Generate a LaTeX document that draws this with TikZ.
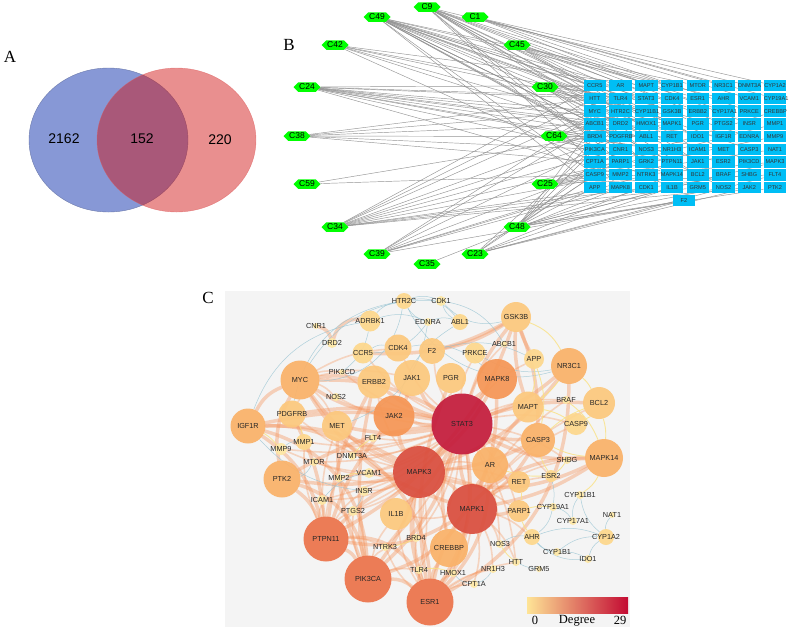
\documentclass[tikz,border=0pt]{standalone}
\usepackage{fontspec}
\setmainfont{Liberation Serif}
\newfontfamily\arialf{Liberation Sans}
\usetikzlibrary{matrix,shapes.symbols}

\pgfdeclarelayer{bg}
\pgfdeclarelayer{edges}
\pgfsetlayers{bg,edges,main}

\definecolor{vennblue}{RGB}{135,152,214}
\definecolor{vennred}{RGB}{208,20,20}
\definecolor{tgtblue}{RGB}{0,190,245}
\definecolor{panelgray}{RGB}{244,244,244}
\definecolor{gA}{RGB}{254,232,165}
\definecolor{gB}{RGB}{253,215,140}
\definecolor{gC}{RGB}{252,200,125}
\definecolor{gD}{RGB}{250,178,105}
\definecolor{gE}{RGB}{246,150,85}
\definecolor{gF}{RGB}{236,115,75}
\definecolor{gG}{RGB}{218,78,62}
\definecolor{gH}{RGB}{196,28,60}
\definecolor{ebig}{RGB}{245,150,95}
\definecolor{eblue}{RGB}{150,195,210}
\definecolor{eyel}{RGB}{250,225,130}
\definecolor{cb0}{RGB}{254,228,150}
\definecolor{cb1}{RGB}{247,140,60}
\definecolor{cb2}{RGB}{195,10,50}

\begin{document}
\begin{tikzpicture}[x=1pt,y=-1pt,
    panel/.style={font=\fontsize{17}{17}\selectfont},
    cpd/.style={signal, signal to=west and east, fill=green, minimum width=27pt, minimum height=9.5pt, inner sep=0.3pt, font=\arialf\fontsize{8.5}{9}\selectfont},
    tgt/.style={fill=tgtblue, minimum height=11.5pt, text width=22.5pt, inner xsep=0pt, inner ysep=0pt, align=center, text=black!80, font=\arialf\fontsize{5.6}{6}\selectfont},
    link/.style={draw=gray!85, line width=0.45pt},
    gene/.style={circle, inner sep=0pt, fill opacity=0.93, minimum size=#1},
    glabel/.style={font=\arialf\fontsize{7.3}{8}\selectfont, text=black!85},
    cbig/.style={draw=ebig, line width=3.5pt, draw opacity=0.4, line cap=round},
    cmed/.style={draw=ebig, line width=1.6pt, draw opacity=0.35, line cap=round},
    cblue/.style={draw=eblue, line width=0.5pt, draw opacity=0.75},
    cyel/.style={draw=eyel, line width=0.9pt, draw opacity=0.8}]
\useasboundingbox (0,0) rectangle (789,630);

% A: venn
\node[panel] (labA) at (10,57) {A};
\draw[fill=vennblue, draw=vennblue!80!black] (108.5,140) ellipse [x radius=79.5, y radius=72];
\draw[fill=vennred, fill opacity=0.48, draw=vennred!70, draw opacity=0.6] (176.5,140) ellipse [x radius=79.5, y radius=72];
\node[font=\arialf\fontsize{14}{14}\selectfont] (n2162) at (64,139) {2162};
\node[font=\arialf\fontsize{14}{14}\selectfont] (n152) at (142,139) {152};
\node[font=\arialf\fontsize{14}{14}\selectfont] (n220) at (220,140) {220};

% B: compound-target network
\node[panel] (labB) at (289,45) {B};
\foreach \c/\x/\y in {C9/427/7, C1/475/17, C49/377/17, C42/335/45, C45/517/45, C24/307/87, C30/545/87, C38/297/136,
    C64/554/136, C59/307/184, C25/545/184, C34/335/227, C48/517/227, C39/377/254, C23/475/254, C35/427/264}
  \node[cpd] (\c) at (\x,\y) {\c};

\matrix (G) [matrix of nodes, nodes={tgt}, column sep=3.25pt, row sep=1.2pt] at (684.9,136.6) {
  CCR5 & AR & MAPT & CYP1B1 & MTOR & NR3C1 & DNMT3A & CYP1A2 \\
  HTT & TLR4 & STAT3 & CDK4 & ESR1 & AHR & VCAM1 & CYP19A1 \\
  MYC & HTR2C & CYP11B1 & GSK3B & ERBB2 & CYP17A1 & PRKCE & CREBBP \\
  ABCB1 & DRD2 & HMOX1 & MAPK1 & PGR & PTGS2 & INSR & MMP1 \\
  BRD4 & PDGFRB & ABL1 & RET & IDO1 & IGF1R & EDNRA & MMP9 \\
  PIK3CA & CNR1 & NOS3 & NR1H3 & ICAM1 & MET & CASP3 & NAT1 \\
  CPT1A & PARP1 & GRK2 & PTPN11 & JAK1 & ESR2 & PIK3CD & MAPK3 \\
  CASP9 & MMP2 & NTRK3 & MAPK14 & BCL2 & BRAF & SHBG & FLT4 \\
  APP & MAPK8 & CDK1 & IL1B & GRM5 & NOS2 & JAK2 & PTK2 \\
};
\node[tgt] (G-10-1) at (684,200.5) {F2};

\begin{pgfonlayer}{edges}
\foreach \c/\ts in {C9/{1,4,7,12,18,22,27,30,35,41,44,50,55,61,66}, C49/{2,5,9,11,14,17,20,25,28,33,36,39,42,47,52,57,60,65,70},
    C1/{6,8,15,16,23,31}, C42/{3,10,19,26,34,49}, C45/{4,13,21,29,37,45,53}, C24/{1,9,12,17,25,28,33,38,41,46,54,58},
    C30/{2,11,19,27,35,43,51}, C38/{9,17,25,33,41,49}, C64/{3,12,20,28,36,44,52,60,68}, C59/{33,57},
    C25/{24,32,40,48,56,64}, C34/{1,9,17,26,34,42,50,58,63,66,69,71}, C48/{25,33,41,49,56,57,62,65,67,70,72,73},
    C39/{10,18,34,50,59,65,66,73}, C23/{26,42,57,60,64,68,71,73}, C35/{66}}
  \foreach \t in \ts {
    \pgfmathtruncatemacro\rr{div(\t-1,8)+1}
    \pgfmathtruncatemacro\cc{mod(\t-1,8)+1}
    \draw[link] (\c) -- (G-\rr-\cc);
  };
\end{pgfonlayer}

% C: PPI network
\node[panel] (labC) at (208,298) {C};
\begin{pgfonlayer}{bg}
\fill[panelgray] (225,291) rectangle (630,627);
\end{pgfonlayer}

\foreach \n/\x/\y/\d/\col in {HTR2C/404/301/16/gB, CDK1/441/301/10/gA, ADRBK1/370/321/21/gB, CNR1/316/326/6/gA,
    EDNRA/428/322/8/gA, ABL1/460/322/16/gB, DRD2/332/343/10/gA, CDK4/398/348/27/gC, CCR5/363/353/21/gB,
    F2/432/351/26/gC, PRKCE/475/353/21/gB, ABCB1/504/344/6/gA, GSK3B/516/317/30/gC, MYC/300/380/39/gD,
    PIK3CD/342/372/6/gA, ERBB2/374/382/33/gC, JAK1/412/378/36/gC, PGR/451/378/30/gC, MAPK8/497/379/40/gE,
    NOS2/336/397/8/gA, PDGFRB/292/414/27/gC, JAK2/394/416/41/gE, STAT3/462/424/61/gH, IGF1R/248/426/35/gD,
    MET/337/426/30/gC, FLT4/373/438/8/gA, MMP1/304/442/16/gB, MMP9/281/449/12/gA, APP/534/359/20/gB,
    NR3C1/569/366/36/gD, BRAF/566/400/8/gA, BCL2/599/403/32/gC, MAPT/528/407/31/gC, CASP9/576/424/22/gB,
    CASP3/538/440/34/gD, MAPK14/604/458/38/gD, MTOR/314/462/8/gA, DNMT3A/352/456/8/gA, PTK2/282/479/37/gD,
    MMP2/339/478/8/gA, VCAM1/369/473/10/gA, MAPK3/419/472/52/gG, AR/490/465/36/gD, INSR/364/491/10/gA,
    ICAM1/322/500/10/gA, PTGS2/353/511/10/gA, IL1B/396/514/32/gC, MAPK1/472/509/50/gG, PTPN11/326/539/45/gF,
    BRD4/416/538/8/gA, NTRK3/385/547/8/gA, CREBBP/449/548/38/gD, NOS3/500/544/8/gA, TLR4/419/570/8/gA,
    HMOX1/453/573/8/gA, NR1H3/493/569/8/gA, CPT1A/474/584/8/gA, PIK3CA/368/579/47/gF, ESR1/430/602/47/gF,
    HTT/516/562/8/gA, SHBG/567/460/8/gA, RET/519/482/22/gC, ESR2/551/476/12/gB, CYP11B1/580/495/8/gA,
    CYP19A1/553/507/8/gA, PARP1/519/511/22/gC, NAT1/612/515/6/gA, CYP17A1/573/521/8/gA, AHR/532/537/16/gB,
    CYP1A2/606/537/16/gB, CYP1B1/557/552/8/gA, IDO1/588/559/8/gA, GRM5/539/569/6/gA}
  \node[gene=\d pt, fill=\col, label={[glabel]center:\n}] (\n) at (\x,\y) {};

\begin{pgfonlayer}{edges}
\foreach \a/\b/\bd in {STAT3/MAPK3/10, STAT3/MAPK1/-10, STAT3/JAK2/10, STAT3/JAK1/15, STAT3/ESR1/20, STAT3/PIK3CA/15,
    STAT3/PTPN11/10, STAT3/MYC/-15, STAT3/IGF1R/-10, STAT3/MAPK8/10, STAT3/CASP3/-10, STAT3/AR/10, STAT3/CREBBP/-15,
    STAT3/IL1B/10, STAT3/MAPK14/-15, STAT3/GSK3B/10, STAT3/NR3C1/-10, STAT3/ERBB2/10, STAT3/PTK2/-12, STAT3/MET/10,
    STAT3/PDGFRB/-10, STAT3/BCL2/10, MAPK3/MAPK1/15, MAPK3/ESR1/-15, MAPK3/PIK3CA/10, MAPK3/PTPN11/-10, MAPK3/MYC/15,
    MAPK3/PTK2/10, MAPK3/IGF1R/-15, MAPK3/MAPK14/-20, MAPK3/CASP3/-10, MAPK3/NR3C1/-15, MAPK3/GSK3B/-12, MAPK3/JAK2/10,
    MAPK3/MAPK8/-10, MAPK1/ESR1/10, MAPK1/PIK3CA/15, MAPK1/PTPN11/20, MAPK1/CREBBP/10, MAPK1/MAPK8/-10, MAPK1/MAPT/10,
    MAPK1/CASP3/-10, MAPK1/AR/10, MAPK1/PARP1/-10, MAPK1/MAPK14/-10, MAPK1/MYC/20, ESR1/PIK3CA/-20, ESR1/PTPN11/-35,
    ESR1/CREBBP/15, ESR1/AR/-20, ESR1/NR3C1/-30, ESR1/PGR/15, ESR1/IGF1R/-45, ESR1/MAPK14/40, PIK3CA/PTPN11/-15,
    PIK3CA/PTK2/-30, PIK3CA/IGF1R/-35, PIK3CA/ERBB2/10, PIK3CA/MET/10, PTPN11/PTK2/-15, PTPN11/IGF1R/-20,
    PTPN11/JAK2/10, PTPN11/ERBB2/10, PTPN11/PDGFRB/-10, GSK3B/CCR5/15, GSK3B/F2/10, GSK3B/MAPT/-10, GSK3B/APP/-5,
    GSK3B/CASP3/10, CNR1/DRD2/30, DRD2/ADRBK1/40, MYC/PTK2/-20, MYC/IGF1R/-20, MYC/JAK2/-10, MYC/ERBB2/10, JAK1/JAK2/10}
  \draw[cbig] (\a) to[bend left=\bd] (\b);
\foreach \a/\bs in {STAT3/{MMP2,VCAM1,INSR,ICAM1,PTGS2,FLT4,NOS2,PIK3CD,DNMT3A,MTOR,MMP1,MMP9,BRD4,NTRK3,TLR4,HMOX1,NOS3,HTT,RET,PARP1,ESR2,SHBG,BRAF,CASP9,APP,ABCB1,PRKCE,F2,CDK4,CCR5,PGR},
    MAPK3/{MMP2,VCAM1,INSR,ICAM1,PTGS2,MTOR,MMP9,NTRK3,BRD4,TLR4,RET,PARP1,IL1B,CREBBP,AR,MET,PDGFRB,ERBB2},
    MAPK1/{NOS3,HTT,NR1H3,HMOX1,RET,ESR2,SHBG,CASP9,BRAF,IL1B,AHR,CPT1A,BCL2},
    ESR1/{TLR4,HMOX1,CPT1A,NR1H3,HTT,BRD4,NTRK3,IL1B,MAPK3},
    PTPN11/{ICAM1,PTGS2,MMP2,INSR,MMP1,NTRK3,MET},
    PIK3CA/{NTRK3,PTGS2,INSR,TLR4,IL1B},
    MYC/{NOS2,PIK3CD,MET,PDGFRB,CDK4,JAK1}}
  \foreach \b in \bs {\draw[cmed] (\a) to[bend left=12] (\b);};
\foreach \a/\b/\bd in {HTR2C/CDK1/20, HTR2C/EDNRA/-20, EDNRA/ABL1/20, ADRBK1/HTR2C/20, CDK1/ABL1/-20, HTR2C/ABL1/30,
    ADRBK1/EDNRA/20, CCR5/CDK4/20, CDK1/GSK3B/-30, HTR2C/MYC/40, EDNRA/MET/30, ABL1/JAK2/-20, CDK4/MAPK8/25,
    F2/APP/20, PRKCE/NR3C1/-20, HTR2C/NR3C1/-40, ADRBK1/PIK3CD/20, CYP11B1/CYP17A1/-20, CYP19A1/CYP17A1/20,
    CYP1A2/CYP1B1/-20, CYP1A2/NAT1/20, IDO1/CYP1A2/20, AHR/CYP1B1/-20, AHR/CYP1A2/20, AHR/IDO1/-25, CYP19A1/AHR/20,
    CYP1B1/IDO1/15, CYP11B1/CYP1A2/-20, ESR2/CYP19A1/10, GRM5/HTT/10, NR1H3/CPT1A/20, HMOX1/CPT1A/-20, NOS3/AHR/20,
    MMP9/MMP1/20, MTOR/PTK2/20, ICAM1/VCAM1/20, INSR/PTGS2/10, IGF1R/INSR/-20, EDNRA/CCR5/25, ABCB1/CDK1/-25,
    MYC/CDK1/30, PDGFRB/HTR2C/35, IGF1R/ADRBK1/30}
  \draw[cblue] (\a) to[bend left=\bd] (\b);
\foreach \a/\b/\bd in {MAPT/CASP9/10, BRAF/MAPK14/15, SHBG/ESR2/10, CASP3/MAPK14/-10, BCL2/MAPK14/10, NR3C1/BCL2/10,
    APP/MAPT/10, ESR2/AR/10, RET/PARP1/10, PARP1/CYP19A1/10, MAPK14/CYP11B1/15, NOS3/HTT/-10, TLR4/HMOX1/15,
    BRD4/NTRK3/10, MMP2/VCAM1/10, DNMT3A/FLT4/10, PDGFRB/MMP1/10, IGF1R/MMP9/10, BCL2/CASP9/15, BCL2/CASP3/-10,
    NR3C1/MAPT/10, APP/CASP3/15, GSK3B/NR3C1/20, ESR2/CASP3/10, AHR/PARP1/10}
  \draw[cyel] (\a) to[bend left=\bd] (\b);
\end{pgfonlayer}

% colour bar
\shade[left color=cb0, middle color=cb1, right color=cb2] (527,597) rectangle (628,613);
\node[font=\fontsize{12.5}{13}\selectfont] (cb-lo) at (535,620.5) {0};
\node[font=\fontsize{12.5}{13}\selectfont] (cb-name) at (577,620.5) {Degree};
\node[font=\fontsize{12.5}{13}\selectfont] (cb-hi) at (620,620.5) {29};
\end{tikzpicture}
\end{document}
